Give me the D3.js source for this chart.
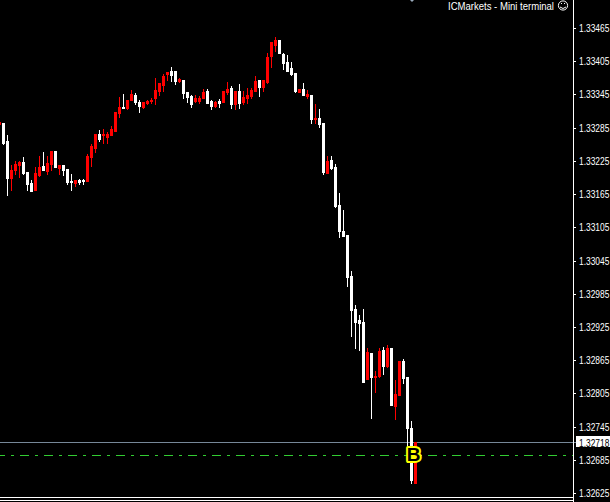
<!DOCTYPE html>
<html><head><meta charset="utf-8">
<script src="https://cdn.jsdelivr.net/npm/d3@7/dist/d3.min.js"></script>
<style>html,body{margin:0;padding:0;background:#000;overflow:hidden}svg{display:block}text{font-family:"Liberation Sans",sans-serif}</style>
</head><body><svg id="c" width="610" height="502"></svg>
<script>
// Prices in points (price x 100000), candles left to right
const open = [133290,133292,133260,133193,133208,133217,133222,133204,133184,133172,133199,133215,133206,133218,133242,133211,133217,133209,133188,133184,133190,133190,133188,133231,133247,133272,133271,133267,133271,133278,133310,133321,133319,133334,133343,133330,133321,133328,133332,133337,133350,133361,133380,133386,133386,133368,133370,133348,133341,133332,133332,133337,133350,133332,133323,133332,133330,133348,133355,133326,133350,133330,133337,133341,133350,133370,133357,133366,133413,133433,133442,133416,133402,133391,133382,133348,133353,133341,133343,133299,133301,133292,133202,133226,133213,133145,133098,133091,133017,132957,132938,132934,132831,132878,132835,132837,132884,132855,132887,132783,132803,132864,132835,132743,132644];
const high = [133294,133292,133271,133217,133224,133224,133231,133204,133190,133213,133233,133240,133233,133242,133242,133217,133217,133209,133200,133190,133191,133191,133236,133254,133272,133280,133281,133276,133287,133312,133339,133344,133334,133352,133346,133334,133330,133334,133337,133373,133364,133380,133384,133393,133386,133373,133370,133348,133343,133343,133341,133353,133353,133334,133332,133335,133350,133366,133359,133350,133362,133350,133355,133355,133377,133370,133370,133418,133438,133447,133442,133418,133415,133402,133382,133353,133364,133352,133343,133326,133317,133292,133233,133233,133218,133166,133136,133091,133026,132965,132947,132957,132887,132878,132846,132887,132889,132893,132887,132830,132864,132867,132835,132756,132718];
const low = [133290,133254,133163,133172,133200,133195,133200,133172,133170,133172,133197,133208,133200,133208,133213,133200,133199,133182,133172,133179,133182,133182,133188,133215,133240,133260,133256,133256,133271,133278,133303,133319,133317,133334,133326,133312,133319,133326,133328,133326,133343,133350,133370,133368,133362,133366,133337,133330,133321,133330,133328,133337,133328,133317,133321,133321,133330,133344,133319,133317,133319,133326,133328,133337,133350,133341,133350,133364,133393,133422,133418,133389,133386,133379,133348,133348,133343,133337,133292,133292,133285,133200,133202,133209,133141,133087,133089,132999,132909,132887,132884,132826,132831,132761,132808,132835,132840,132853,132785,132759,132803,132824,132709,132644,132644];
const close = [133294,133256,133193,133208,133218,133222,133202,133182,133170,133202,133213,133208,133220,133242,133213,133217,133208,133186,133186,133190,133186,133188,133233,133251,133272,133263,133272,133272,133281,133312,133321,133319,133334,133344,133330,133323,133330,133332,133334,133352,133364,133377,133384,133379,133368,133371,133346,133339,133326,133337,133337,133348,133328,133323,133330,133328,133350,133353,133326,133350,133328,133339,133343,133352,133368,133357,133370,133411,133438,133442,133418,133400,133386,133380,133350,133353,133343,133344,133299,133301,133290,133204,133224,133211,133143,133098,133089,133015,132956,132934,132932,132826,132880,132835,132837,132882,132855,132887,132785,132804,132864,132833,132743,132650,132718];
const tickLabels = ["1.33465","1.33405","1.33345","1.33285","1.33225","1.33165","1.33105","1.33045","1.32985","1.32925","1.32865","1.32805","1.32745","1.32685","1.32625"];
const bidLabel = "1.32718";
const signalPrice = 132695;
const signalLetter = "B";
const signalIndex = 103;
const titleText = "ICMarkets - Mini terminal";

const UP = "#ff0000", DOWN = "#ffffff", SQUEEZE = 0.766;
const svg = d3.select("#c");
svg.append("rect").attr("width",610).attr("height",502).attr("fill","#000");
const y = d3.scaleLinear().domain([133465,132625]).range([27,493.67]);
const yAxis = d3.scaleLinear().domain([133465,132625]).range([27.8,493.2]);
const x = d3.scaleLinear().domain([0,104]).range([-1,415]);
const ry = v => Math.round(y(v));
const idx = d3.range(open.length);

const g = svg.append("g").attr("shape-rendering","crispEdges");
// bid level and signal level
g.append("line").attr("x1",0).attr("x2",576).attr("y1",ry(+bidLabel*1e5)+.5).attr("y2",ry(+bidLabel*1e5)+.5).attr("stroke","#778899");
g.append("line").attr("x1",0).attr("x2",573).attr("y1",ry(signalPrice)+.5).attr("y2",ry(signalPrice)+.5)
 .attr("stroke","#32cd32").attr("stroke-dasharray","9 6 3 6").attr("stroke-dashoffset",4);
// wicks and bodies
g.selectAll(".wick").data(idx).join("rect").attr("class","wick")
 .attr("x",i=>x(i)).attr("width",1).attr("y",i=>ry(high[i]))
 .attr("height",i=>ry(low[i])-ry(high[i])+1)
 .attr("fill",i=>close[i]>open[i]?UP:DOWN);
g.selectAll(".body").data(idx).join("rect").attr("class","body")
 .attr("x",i=>x(i)-1).attr("width",3).attr("y",i=>ry(Math.max(open[i],close[i])))
 .attr("height",i=>ry(Math.min(open[i],close[i]))-ry(Math.max(open[i],close[i]))+1)
 .attr("fill",i=>close[i]>open[i]?UP:DOWN);
// bottom rules
g.append("rect").attr("x",0).attr("y",497).attr("width",574).attr("height",1).attr("fill","#fff");
g.append("rect").attr("x",0).attr("y",500).attr("width",574).attr("height",1).attr("fill","#fff");
// price axis
g.append("rect").attr("x",573).attr("y",0).attr("width",1).attr("height",502).attr("fill","#fff");
const axis = d3.axisRight(yAxis).tickValues(tickLabels.map(l=>Math.round(+l*1e5)))
 .tickFormat(d=>(d/1e5).toFixed(5)).tickSize(3).tickPadding(3);
const ag = svg.append("g").attr("transform","translate(573,0)").call(axis);
ag.select(".domain").remove();
ag.selectAll("line").attr("stroke","#fff").attr("shape-rendering","crispEdges");
ag.selectAll("text").attr("fill","#fff").attr("font-size",11).attr("font-family","Liberation Sans")
 .attr("x",6/SQUEEZE).attr("transform",`scale(${SQUEEZE},1)`);
// bid tag
g.append("rect").attr("x",576).attr("y",436).attr("width",34).attr("height",11).attr("fill","#fff");
svg.append("text").attr("transform",`translate(579,${ry(+bidLabel*1e5)+4.5}) scale(${SQUEEZE},1)`)
 .attr("font-size",11).attr("fill","#000").text(bidLabel);
// title and smiley
svg.append("text").attr("x",448).attr("y",9.5).attr("font-size",11).attr("fill","#fff")
 .attr("textLength",106).attr("lengthAdjust","spacingAndGlyphs").text(titleText);
const sm = svg.append("g").attr("fill","none").attr("stroke","#fff");
sm.append("circle").attr("cx",563).attr("cy",5.5).attr("r",4.6);
sm.append("path").attr("d","M560,7 Q563,10 566,7");
sm.append("rect").attr("x",561).attr("y",3).attr("width",1).attr("height",1).attr("fill","#fff").attr("stroke","none");
sm.append("rect").attr("x",564).attr("y",3).attr("width",1).attr("height",1).attr("fill","#fff").attr("stroke","none");
// shift marker at the top
svg.append("path").attr("d","M410,0 L414,0 L412,2 Z").attr("fill","#9ab");
// signal badge
svg.append("text").attr("x",x(signalIndex)+2.5).attr("y",461.3).attr("text-anchor","middle")
 .attr("font-size",19).attr("font-weight","bold").attr("fill","#000").attr("stroke","#ffff00").attr("stroke-width",4)
 .attr("stroke-linejoin","round").attr("paint-order","stroke").text(signalLetter);
</script>
</body></html>
